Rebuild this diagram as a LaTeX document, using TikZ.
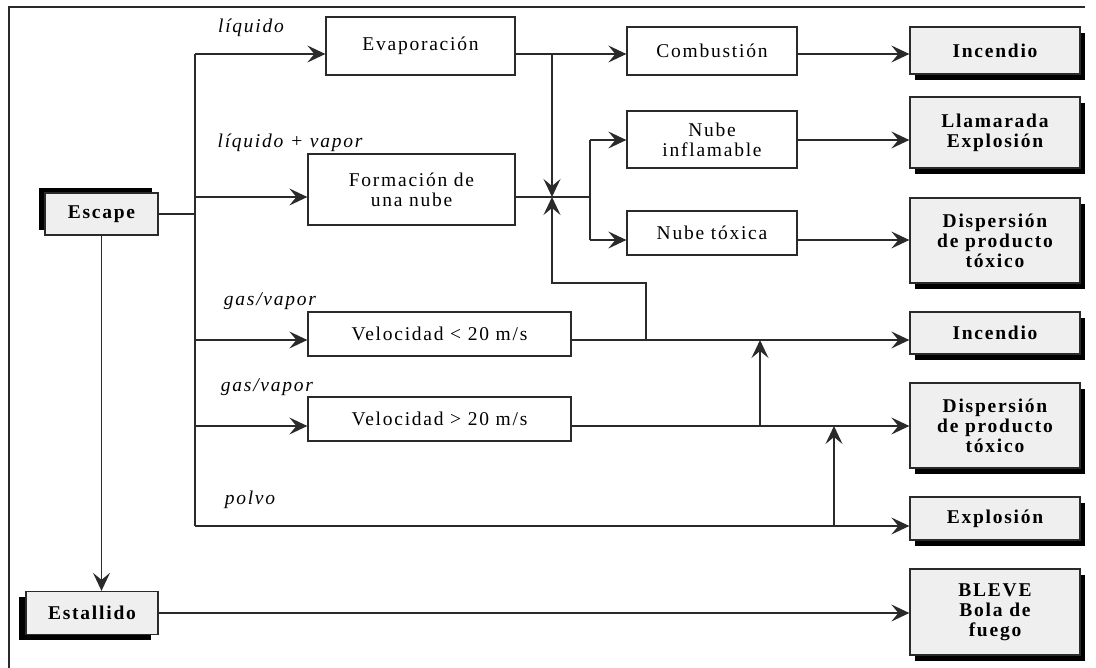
\documentclass[tikz,border=0pt]{standalone}
\usepackage{fontspec}
\setmainfont{Liberation Serif}[LetterSpace=9]
\usetikzlibrary{arrows.meta,shadows}

\definecolor{gris}{HTML}{EFEFEF}
\definecolor{linea}{HTML}{2A2A2A}
\newcommand{\tam}{\fontsize{19.5}{20}\selectfont}

\tikzset{
	caja/.style={draw=linea, fill=white, line width=1.3pt, align=center, inner sep=0pt, font=\tam},
	resultado/.style={caja, fill=gris, font=\tam\bfseries, minimum width=170pt,
		drop shadow={shadow xshift=5pt, shadow yshift=-6pt, fill=black, opacity=1}},
	etiqueta/.style={font=\tam\itshape, inner sep=0pt},
	flecha/.style={-{Stealth[length=18pt,width=17pt,inset=7pt]}},
}

\begin{document}
\begin{tikzpicture}[x=1pt, y=-1pt, line width=1.3pt, draw=linea]

	\useasboundingbox (0,0) rectangle (1096,668);

	% Marco
	\draw (1085,7) -- (9,7) -- (9,668);

	% Origen
	\node[caja, fill=gris, font=\tam\bfseries, minimum width=113pt, minimum height=42pt,
		drop shadow={shadow xshift=-6pt, shadow yshift=5pt, fill=black, opacity=1}] (esc) at (101.5,214) {Escape};
	\node[caja, fill=gris, font=\tam\bfseries, minimum width=132pt, minimum height=43pt,
		drop shadow={shadow xshift=-7pt, shadow yshift=-5pt, fill=black, opacity=1}] (est) at (92,613) {Estallido};

	% Procesos
	\node[caja, minimum width=189pt, minimum height=58pt] (evap) at (420.5,46) {Evaporación};
	\node[caja, minimum width=207pt, minimum height=71pt] (form) at (411.5,189.5) {Formación de\\una nube};
	\node[caja, minimum width=263pt, minimum height=44pt] (vmen) at (439.5,334) {Velocidad < 20 m/s};
	\node[caja, minimum width=263pt, minimum height=44pt] (vmay) at (439.5,419) {Velocidad > 20 m/s};
	\node[caja, minimum width=170pt, minimum height=48pt] (comb) at (712,51) {Combustión};
	\node[caja, minimum width=170pt, minimum height=57pt] (ninf) at (712,139.5) {Nube\\inflamable};
	\node[caja, minimum width=170pt, minimum height=44pt] (ntox) at (712,233) {Nube tóxica};

	% Consecuencias
	\node[resultado, minimum height=47pt] (inc1) at (995,50.5) {Incendio};
	\node[resultado, minimum height=71pt] (llam) at (995,132.5) {Llamarada\\Explosión};
	\node[resultado, minimum height=85pt] (disp1) at (995,240.5) {Dispersión\\de producto\\tóxico};
	\node[resultado, minimum height=42pt] (inc2) at (995,333) {Incendio};
	\node[resultado, minimum height=85pt] (disp2) at (995,425.5) {Dispersión\\de producto\\tóxico};
	\node[resultado, minimum height=43pt] (expl) at (995,518.5) {Explosión};
	\node[resultado, minimum height=86pt] (bleve) at (995,612) {BLEVE\\Bola de\\fuego};

	% Etiquetas
	\node[etiqueta] (lliq) at (251,28) {líquido};
	\node[etiqueta] (lmix) at (290,143) {líquido + vapor};
	\node[etiqueta] (lgas1) at (270,301) {gas/vapor};
	\node[etiqueta] (lgas2) at (267,387) {gas/vapor};
	\node[etiqueta] (lpol) at (250,500) {polvo};

	% Ramas del escape
	\coordinate (b1) at (195,54);
	\coordinate (b2) at (195,197);
	\coordinate (b3) at (195,340);
	\coordinate (b4) at (195,426);
	\coordinate (b5) at (195,526);
	\draw (esc.east) -- (esc.east -| b1);
	\draw (b1) -- (b5);
	\draw[flecha] (b1) -- (b1 -| evap.west);
	\draw[flecha] (b2) -- (b2 -| form.west);
	\draw[flecha] (b3) -- (b3 -| vmen.west);
	\draw[flecha] (b4) -- (b4 -| vmay.west);
	\draw[flecha] (b5) -- (b5 -| expl.west);
	\draw[flecha] (esc.south) -- (esc.south |- est.north);
	\draw[flecha] (est.east) -- (est.east -| bleve.west);

	% Liquido y nube
	\coordinate (j1) at (552,54);
	\coordinate (j2) at (552,197);
	\coordinate (j3) at (590,197);
	\coordinate (t1) at (590,140);
	\coordinate (t2) at (590,240);
	\draw[flecha] (b1 -| evap.east) -- (b1 -| comb.west);
	\draw[flecha] (b1 -| comb.east) -- (b1 -| inc1.west);
	\draw[flecha] (j1) -- (j2);
	\draw (b2 -| form.east) -- (j3);
	\draw (t1) -- (t2);
	\draw[flecha] (t1) -- (t1 -| ninf.west);
	\draw[flecha] (t2) -- (t2 -| ntox.west);
	\draw[flecha] (t1 -| ninf.east) -- (t1 -| llam.west);
	\draw[flecha] (t2 -| ntox.east) -- (t2 -| disp1.west);

	% Gas y polvo
	\coordinate (k1) at (646,340);
	\coordinate (k2) at (646,283);
	\coordinate (k3) at (760,426);
	\coordinate (k4) at (834,526);
	\draw[flecha] (b3 -| vmen.east) -- (b3 -| inc2.west);
	\draw[flecha] (b4 -| vmay.east) -- (b4 -| disp2.west);
	\draw[flecha] (k1) -- (k2) -| (j2);
	\draw[flecha] (k3) -- (k3 |- b3);
	\draw[flecha] (k4) -- (k4 |- b4);

\end{tikzpicture}
\end{document}
